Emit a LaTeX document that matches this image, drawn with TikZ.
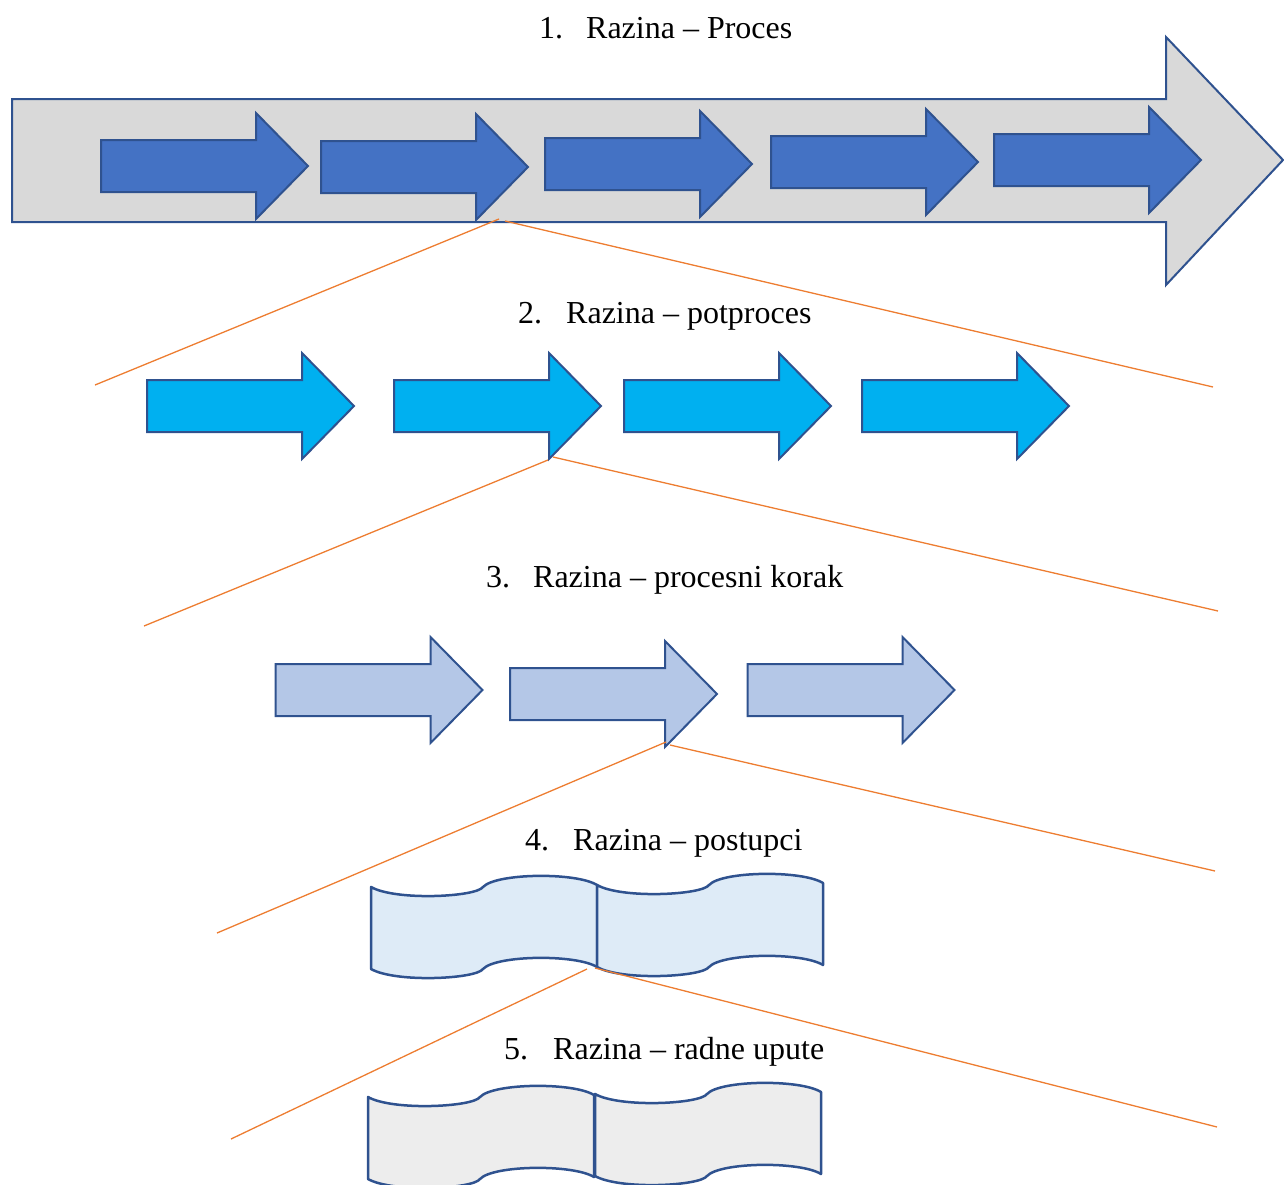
\documentclass[tikz,border=0pt]{standalone}
\usepackage{fontspec}
\setmainfont{Liberation Serif}
\definecolor{edgeblue}{HTML}{2F528F}
\definecolor{biggray}{HTML}{D9D9D9}
\definecolor{lvlone}{HTML}{4472C4}
\definecolor{lvltwo}{HTML}{00B0F0}
\definecolor{lvlthree}{HTML}{B4C7E7}
\definecolor{lvlfour}{HTML}{DEEBF7}
\definecolor{lvlfive}{HTML}{EDEDED}
\definecolor{zoomorange}{HTML}{ED7D31}
\tikzset{
  flowarrow/.pic={\path[pic actions] (0,-26) -- (155,-26) -- (155,-53) -- (207,0) -- (155,53) -- (155,26) -- (0,26) -- cycle;},
  wavebox/.pic={\path[pic actions] (0,0) .. controls (25,14) and (105,10) .. (112,0) .. controls (125,-14) and (205,-15) .. (226,-2) -- (226,80) .. controls (205,67) and (125,68) .. (112,82) .. controls (105,92) and (25,96) .. (0,82) -- cycle;},
  arrowone/.style={draw=edgeblue, fill=lvlone, line width=2pt, line join=miter},
  arrowtwo/.style={draw=edgeblue, fill=lvltwo, line width=2pt, line join=miter},
  arrowthree/.style={draw=edgeblue, fill=lvlthree, line width=2pt, line join=miter},
  wavefour/.style={draw=edgeblue, fill=lvlfour, line width=2.5pt, line join=round},
  wavefive/.style={draw=edgeblue, fill=lvlfive, line width=2.5pt, line join=round},
  zoomline/.style={draw=zoomorange, line width=1.3pt},
  lvllabel/.style={anchor=base west, inner sep=0pt, font=\fontsize{32}{38}\selectfont}
}
\begin{document}
\begin{tikzpicture}[x=1pt,y=-1pt]
\useasboundingbox (0,0) rectangle (1284,1184);

% level 1 big arrow
\path[draw=edgeblue, fill=biggray, line width=2pt] (12,99) -- (1166,99) -- (1166,37) -- (1283,160) -- (1166,285) -- (1166,222) -- (12,222) -- cycle;
\pic[arrowone] (a1) at (101,166) {flowarrow};
\pic[arrowone] (a2) at (321,167) {flowarrow};
\pic[arrowone] (a3) at (545,164) {flowarrow};
\pic[arrowone] (a4) at (771,162) {flowarrow};
\pic[arrowone] (a5) at (994,160) {flowarrow};

% level 2
\pic[arrowtwo] (b1) at (147,406) {flowarrow};
\pic[arrowtwo] (b2) at (394,406) {flowarrow};
\pic[arrowtwo] (b3) at (624,406) {flowarrow};
\pic[arrowtwo] (b4) at (862,406) {flowarrow};

% level 3
\pic[arrowthree] (c1) at (275.5,690) {flowarrow};
\pic[arrowthree] (c2) at (510,694) {flowarrow};
\pic[arrowthree] (c3) at (747.5,690) {flowarrow};

% level 4
\pic[wavefour] (d1) at (371,887) {wavebox};
\pic[wavefour] (d2) at (597,885) {wavebox};

% level 5
\pic[wavefive] (f1) at (368,1097) {wavebox};
\pic[wavefive] (f2) at (595,1094) {wavebox};

% zoom lines
\coordinate (s1l) at (499,219); \coordinate (e1l) at (95,385);
\coordinate (s1r) at (505,221); \coordinate (e1r) at (1213,387);
\coordinate (s2l) at (548,460); \coordinate (e2l) at (144,626);
\coordinate (s2r) at (553,457); \coordinate (e2r) at (1218,611);
\coordinate (s3l) at (666,742); \coordinate (e3l) at (217,933);
\coordinate (s3r) at (670,745); \coordinate (e3r) at (1215,871);
\coordinate (s4l) at (587,969); \coordinate (e4l) at (231,1139);
\coordinate (s4r) at (595,968); \coordinate (e4r) at (1217,1127);
\draw[zoomline] (s1l) -- (e1l);
\draw[zoomline] (s1r) -- (e1r);
\draw[zoomline] (s2l) -- (e2l);
\draw[zoomline] (s2r) -- (e2r);
\draw[zoomline] (s3l) -- (e3l);
\draw[zoomline] (s3r) -- (e3r);
\draw[zoomline] (s4l) -- (e4l);
\draw[zoomline] (s4r) -- (e4r);

% labels
\node[lvllabel] (t1) at (539,38) {\makebox[47pt][l]{1.}Razina – Proces};
\node[lvllabel] (t2) at (518,323) {\makebox[48pt][l]{2.}Razina – potproces};
\node[lvllabel] (t3) at (486,587) {\makebox[47pt][l]{3.}Razina – procesni korak};
\node[lvllabel] (t4) at (525,850) {\makebox[48pt][l]{4.}Razina – postupci};
\node[lvllabel] (t5) at (504,1059) {\makebox[49pt][l]{5.}Razina – radne upute};
\end{tikzpicture}
\end{document}
